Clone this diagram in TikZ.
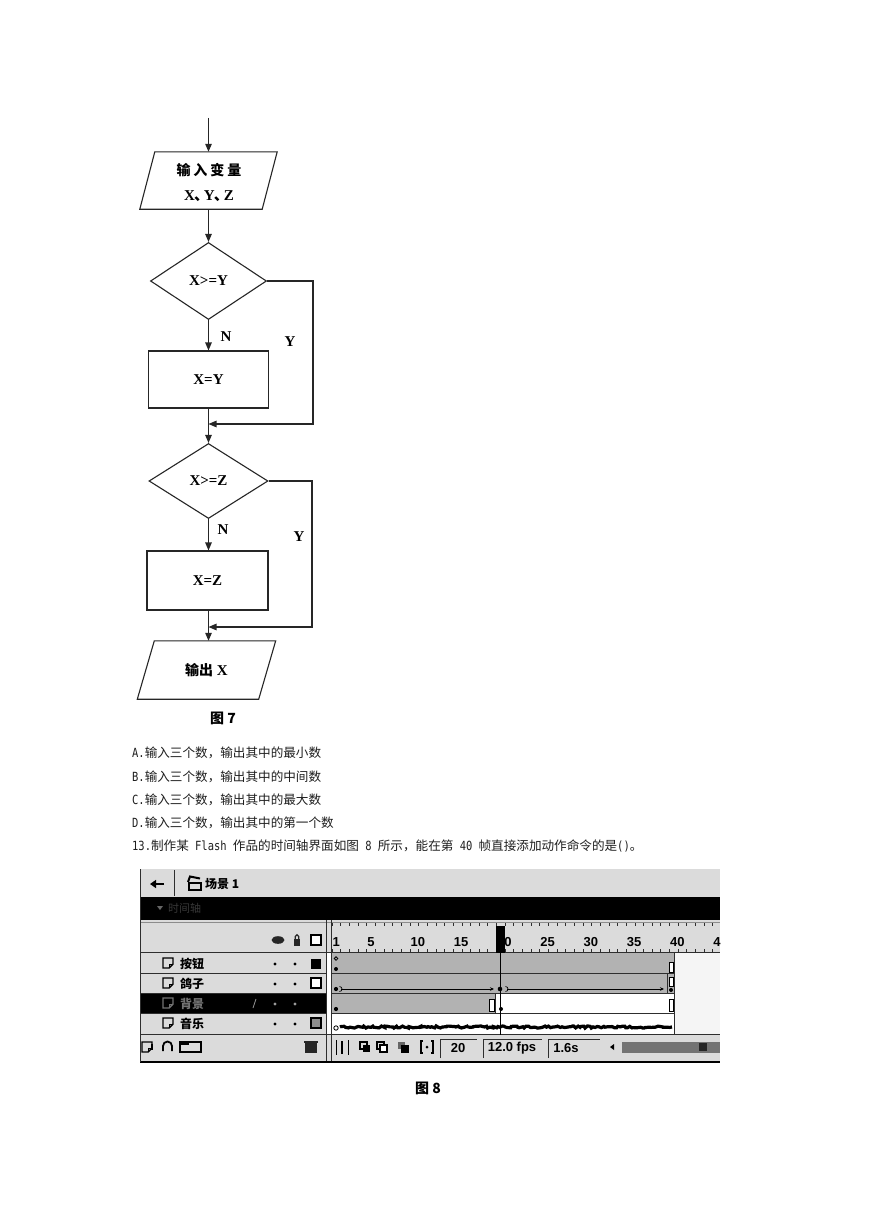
\documentclass[tikz,border=0pt]{standalone}
\usepackage{fontspec}
\newfontfamily\cjk{Noto Sans CJK SC}
\newfontfamily\serifb{Liberation Serif}
\newfontfamily\mono[FakeStretch=0.83]{DejaVu Sans Mono}
\newfontfamily\sansf{Liberation Sans}
\usetikzlibrary{shapes.geometric,arrows.meta,calc,decorations.pathmorphing}
\newcommand\hw[1]{{\mono\fontsize{12.6}{14}\selectfont #1}}
\newcommand\ftextfont{\serifb\bfseries\fontsize{15}{17}\selectfont}
\definecolor{pnl}{gray}{0.86}
\definecolor{frm}{gray}{0.70}
\definecolor{lnc}{gray}{0.18}
\tikzset{
  flow/.style={draw=black!85, line width=1.1pt},
  arr/.style={flow, -{Triangle[length=8pt,width=6.5pt]}},
  ftxt/.style={font=\ftextfont, inner sep=0pt},
  boxn/.style={flow, rectangle, inner sep=0pt, font=\ftextfont},
  dia/.style={flow, diamond, inner sep=0pt, font=\ftextfont},
  io/.style={rectangle, inner sep=0pt, font=\ftextfont},
  qtext/.style={anchor=west, inner sep=0pt, text=black!88, font=\cjk\fontsize{12.6}{14}\selectfont},
  capt/.style={inner sep=0pt, font=\cjk\bfseries\fontsize{14}{16}\selectfont},
  lname/.style={anchor=west, inner sep=0pt, font=\cjk\bfseries\fontsize{12}{14}\selectfont},
  rnum/.style={anchor=west, inner sep=0pt, font=\sansf\bfseries\fontsize{13}{15}\selectfont},
  fld/.style={inner sep=0pt, font=\sansf\bfseries\fontsize{13}{15}\selectfont},
  licon/.pic={\draw[line width=1.4] (-5,-5) -- (5,-5) -- (5,1) -- (1,5) -- (-5,5) -- cycle;
              \draw[line width=0.9] (5,1) -- (1,1) -- (1,5);}
}
\begin{document}
\begin{tikzpicture}[x=1pt,y=-1pt]
\path[use as bounding box, fill=white] (0,0) rectangle (869,1228);

% ---------------- Flowchart (Fig. 7) ----------------
\coordinate (start) at (208.5,118);
\node[io, minimum width=122pt, minimum height=57pt] (in) at (208.5,180.5) {};
\draw[flow] ($(in.north west)+(7.5,0)$) -- ($(in.north east)+(7.5,0)$)
  -- ($(in.south east)+(-7.5,0)$) -- ($(in.south west)+(-7.5,0)$) -- cycle;
\node[ftxt] (inA) at (209,170) {\cjk\bfseries\fontsize{14}{16}\selectfont 输\hspace{3pt}入\hspace{3pt}变\hspace{3pt}量};
\node[ftxt] (inB) at (209,196) {X\kern-1pt{\cjk 、}\kern-5pt Y\kern-1pt{\cjk 、}\kern-5pt Z};

\node[dia, minimum width=116pt, minimum height=77pt] (d1) at (208.5,281) {X>=Y};
\node[boxn, minimum width=120pt, minimum height=57pt] (b1) at (208.5,379.5) {X=Y};
\coordinate (r1) at (313,424);
\coordinate (m1) at (208.5,424);
\node[dia, minimum width=119pt, minimum height=75pt] (d2) at (208.5,481) {X>=Z};
\node[boxn, minimum width=121pt, minimum height=59pt] (b2) at (207.5,580.5) {X=Z};
\coordinate (r2) at (312,627);
\coordinate (m2) at (208.5,627);
\node[io, minimum width=121pt, minimum height=58pt] (out) at (206.5,670) {{\cjk\bfseries\fontsize{14}{16}\selectfont 输出} X};
\draw[flow] ($(out.north west)+(8.5,0)$) -- ($(out.north east)+(8.5,0)$)
  -- ($(out.south east)+(-8.5,0)$) -- ($(out.south west)+(-8.5,0)$) -- cycle;

\draw[arr] (start) -- (in.north);
\draw[arr] (in.south) -- (d1.north);
\draw[arr] (d1.south) -- (b1.north);
\draw[arr] (d1.east) -| (r1) -- (m1);
\draw[flow] (b1.south) -- (m1);
\draw[arr] (m1) -- (d2.north);
\draw[arr] (d2.south) -- (d2.south |- b2.north);
\draw[arr] (d2.east) -| (r2) -- (m2);
\draw[flow] (m2 |- b2.south) -- (m2);
\draw[arr] (m2) -- (m2 |- out.north);

\node[ftxt] (n1) at (226,337) {N};
\node[ftxt] (y1) at (290,342) {Y};
\node[ftxt] (n2) at (223,530) {N};
\node[ftxt] (y2) at (299,537) {Y};
\node[capt] (cap7) at (223,718) {图 7};

% ---------------- Question text ----------------
\node[qtext] (qa) at (132,753) {\hw{A.}输入三个数，输出其中的最小数};
\node[qtext] (qb) at (132,777) {\hw{B.}输入三个数，输出其中的中间数};
\node[qtext] (qc) at (132,800) {\hw{C.}输入三个数，输出其中的最大数};
\node[qtext] (qd) at (132,823) {\hw{D.}输入三个数，输出其中的第一个数};
\node[qtext] (q13) at (132,846) {\hw{13.}制作某\hw{ Flash }作品的时间轴界面如图\hw{ 8 }所示，能在第\hw{ 40 }帧直接添加动作命令的是\hw{()}。};

% ---------------- Timeline screenshot (Fig. 8) ----------------
\begin{scope}
\clip (139,868) rectangle (720,1064);
% top bar
\fill[pnl] (140,869) rectangle (720,897);
\draw[lnc, line width=0.8] (174,870) -- (174,896);
\draw[line width=2.4, -{Triangle[length=6pt,width=8pt]}] (164,884) -- (150,884);
\draw[line width=1.6] (189,883) rectangle (201,890);
\draw[line width=2] (188,882) -- (190,876.5) -- (200,878.5);
\node[lname] (scene) at (205,884) {场景 1};
% black band
\fill[black] (140,897) rectangle (720,920);
\fill[black!60] (157,906) -- (163,906) -- (160,910) -- cycle;
\node[lname, font=\cjk\fontsize{11}{13}\selectfont, text=black!78] (tl) at (168,908) {时间轴};
% header row
\fill[pnl] (140,920) rectangle (720,952);
\draw[black!45, line width=0.6] (140,922) -- (720,922);
\fill[black!85] (278,940) ellipse (6.5 and 3.8);
\fill[black!85] (293.8,939) rectangle (300.2,946);
\draw[black!85, line width=1.3] (295.3,939) -- (295.3,936.5) arc[start angle=180, end angle=360, radius=1.7] -- (298.7,939);
\draw[line width=1.6, fill=white] (311,935) rectangle (321,945);
% ruler
\foreach \n in {0,...,45} {
  \draw[lnc, line width=0.5] ({332+\n*8.65},923) -- ++(0,3);
  \draw[lnc, line width=0.5] ({332+\n*8.65},952) -- ++(0,-3);
}
\foreach \n in {1,5,10,15,...,45} {
  \node[rnum] (rn\n) at ({332.5+(\n-1)*8.65},942) {\n};
}
\draw[lnc, line width=1] (140,952.5) -- (720,952.5);
% layer panel
\fill[pnl] (140,953) rectangle (326,1034);
\fill[black] (140,993) rectangle (326,1013);
\foreach \yy in {973,993,1013} { \draw[lnc, line width=0.9] (140,\yy) -- (326,\yy); }
\draw[lnc, line width=1.4] (140,1034.5) -- (720,1034.5);
\pic at (168,963) {licon};
\node[lname] (l1) at (180,964) {按钮};
\pic at (168,983) {licon};
\node[lname] (l2) at (180,984) {鸽子};
\pic[black!55] at (168,1003) {licon};
\node[lname, text=black!55] (l3) at (180,1004) {背景};
\pic at (168,1023) {licon};
\node[lname] (l4) at (180,1024) {音乐};
\foreach \yy in {964,984,1024} { \fill (275,\yy) circle (1.6); \fill (295,\yy) circle (1.6); }
\fill[black!40] (275,1004) circle (1.6); \fill[black!40] (295,1004) circle (1.6);
\draw[black!45, line width=0.9] (253,1008) -- (256,999);
\fill[black] (311,959) rectangle (321,969);
\draw[line width=1.5, fill=white] (311,978) rectangle (321,988);
\draw[line width=1.5, fill=black!45] (311,1018) rectangle (321,1028);
% panel divider
\draw[lnc, line width=1] (326,920) -- (326,1063);
\draw[lnc, line width=1] (331.5,920) -- (331.5,1063);
% frames
\fill[frm] (332,953) rectangle (674,993);
\fill[frm] (332,993) rectangle (495,1013);
\fill[white] (495,993) rectangle (674,1013);
\fill[white] (332,1013) rectangle (674,1034);
\fill[black!4] (674.5,953) rectangle (720,1034);
\foreach \yy in {973,993,1013} { \draw[lnc, line width=0.9] (332,\yy) -- (674,\yy); }
\draw[lnc, line width=1] (674,953) -- (674,1035);
% row 1
\draw[line width=0.8] (336,958.5) circle (1.8);
\fill (336,969) circle (2);
\draw[line width=0.8, fill=white] (669,962) rectangle (673,972);
% row 2
\fill (336,989) circle (2.1);
\draw[line width=0.7] (339.5,986.5) arc[start angle=-90, end angle=90, radius=2.5];
\draw[line width=0.9, -{Stealth[length=4pt,width=3.5pt]}] (341,989) -- (494,989);
\fill (500,989) circle (2.3);
\draw[line width=0.7] (505.5,986.5) arc[start angle=-90, end angle=90, radius=2.5];
\draw[line width=0.9, -{Stealth[length=4pt,width=3.5pt]}] (507,989) -- (664,989);
\draw[lnc, line width=0.8] (667,973) -- (667,993);
\draw[line width=0.8, fill=white] (669,977) rectangle (673,986);
\fill (671,990) circle (2);
% row 3
\fill (336,1009) circle (2.1);
\draw[line width=0.8, fill=white] (489,999) rectangle (494,1011);
\draw[lnc, line width=0.8] (495.5,993) -- (495.5,1013);
\fill (501,1009) circle (2);
\draw[line width=0.8, fill=white] (669,999) rectangle (673,1011);
% row 4 (sound wave)
\pgfmathsetseed{3}
\draw[line width=3.2, decorate, decoration={random steps, segment length=2pt, amplitude=1.1pt}] (340,1027) -- (672,1027);
\draw[line width=0.8, fill=white] (336,1028) circle (2.2);
% playhead
\fill[black] (496,926) rectangle (504.5,952.5);
\draw[line width=1.1] (500.25,952) -- (500.25,1040);
% bottom toolbar
\fill[pnl] (140,1035.3) rectangle (720,1061);
\draw[lnc, line width=1] (326,1035) -- (326,1061);
\draw[lnc, line width=1] (331.5,1035) -- (331.5,1061);
\pic at (147,1047) {licon};
\draw[line width=1.6] (152,1044) -- (152,1050);
\draw[line width=1.8] (163,1051) -- (163,1046) arc[start angle=180, end angle=360, radius=4.5] -- (172,1051);
\draw[line width=1.6] (180,1042) rectangle (201,1052);
\fill (180,1042) rectangle (189,1045);
\fill[black!85] (305,1043) rectangle (317,1053);
\fill[black!85] (304,1041) rectangle (318,1043);
\draw[line width=1] (336,1040) -- (336,1055);
\draw[line width=2] (342,1041) -- (342,1054);
\draw[line width=1] (348,1040) -- (348,1055);
\draw[line width=1.2] (360,1042) rectangle (367,1049);
\fill (363,1045) rectangle (370,1052);
\draw[line width=1.2] (377,1042) rectangle (384,1049);
\draw[line width=1.2, fill=white] (380,1045) rectangle (387,1052);
\fill[black!60] (398,1042) rectangle (405,1049);
\fill (401,1045) rectangle (409,1053);
\draw[line width=1.2] (423,1041) -- (421,1041) -- (421,1053) -- (423,1053);
\draw[line width=1.2] (431,1041) -- (433,1041) -- (433,1053) -- (431,1053);
\fill (427,1047) circle (1.5);
\draw[lnc, line width=1] (440,1058) -- (440,1039) -- (477,1039);
\node[fld] (fr) at (458,1048) {20};
\draw[lnc, line width=1] (483,1058) -- (483,1039) -- (542,1039);
\node[fld] (fps) at (512,1048) {12.0 fps};
\draw[lnc, line width=1] (548,1058) -- (548,1039) -- (600,1039);
\node[fld] (tm) at (566,1048) {1.6s};
\fill (610,1047) -- (614,1044) -- (614,1050) -- cycle;
\fill[black!55] (622,1042) rectangle (720,1053);
\fill[black!85] (699,1043) rectangle (707,1051);
\draw[line width=1.8] (140,1062) -- (720,1062);
\draw[lnc, line width=0.8] (140,869) -- (140,1062);
\end{scope}
\node[capt] (cap8) at (428,1088) {图 8};
\end{tikzpicture}
\end{document}
